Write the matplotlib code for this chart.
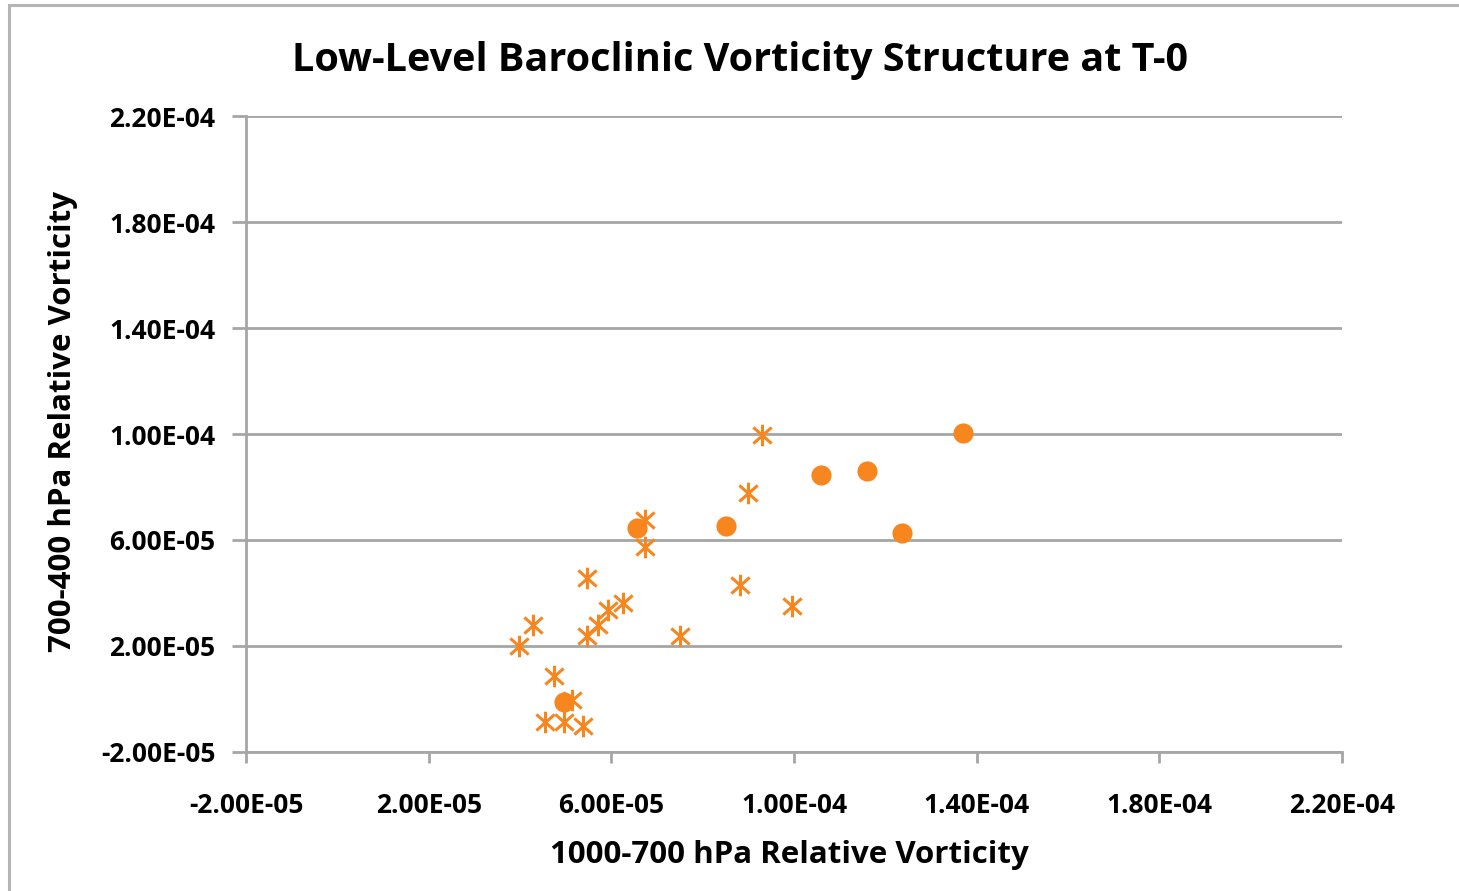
import matplotlib.pyplot as plt
import numpy as np
from matplotlib.path import Path
from matplotlib.patches import Rectangle
from matplotlib.ticker import FuncFormatter

# asterisk series (1000-700 hPa, 700-400 hPa)
star_x = [9.29e-5, 9.00e-5, 6.74e-5, 6.74e-5, 5.46e-5, 6.26e-5, 5.93e-5, 5.71e-5,
          5.46e-5, 4.29e-5, 3.98e-5, 7.50e-5, 8.82e-5, 9.95e-5, 4.75e-5, 5.13e-5,
          4.55e-5, 4.96e-5, 5.39e-5]
star_y = [9.96e-5, 7.76e-5, 6.75e-5, 5.75e-5, 4.58e-5, 3.63e-5, 3.36e-5, 2.79e-5,
          2.38e-5, 2.79e-5, 2.01e-5, 2.38e-5, 4.30e-5, 3.51e-5, 0.87e-5, -0.04e-5,
          -0.86e-5, -0.86e-5, -1.02e-5]

# circle series
dot_x = [6.56e-5, 8.50e-5, 10.59e-5, 11.59e-5, 13.71e-5, 12.36e-5, 4.96e-5]
dot_y = [6.44e-5, 6.53e-5, 8.45e-5, 8.60e-5, 10.05e-5, 6.28e-5, -0.10e-5]

ticks = [-2e-5, 2e-5, 6e-5, 1e-4, 1.4e-4, 1.8e-4, 2.2e-4]

orange = "#F7861F"
grey = "#A6A6A6"
font = ["Open Sans", "DejaVu Sans"]

plt.rcParams["font.family"] = font
plt.rcParams["font.weight"] = "bold"

fig = plt.figure(figsize=(14.59, 8.91), dpi=100)
ax = fig.add_axes([246 / 1459, 1 - 752 / 891, (1342 - 246) / 1459, (752 - 116) / 891])

# outer chart frame (cropped on the right and bottom)
fig.patches.append(Rectangle((9 / 1459, -0.05), 1.2, 1 - 5.5 / 891 + 0.05, transform=fig.transFigure,
                             fill=False, edgecolor="#B4B4B4", linewidth=2.2))

asterisk = Path([(0, -1), (0, 1), (-0.85, -0.75), (0.85, 0.75), (-0.85, 0.75), (0.85, -0.75)],
                [Path.MOVETO, Path.LINETO, Path.MOVETO, Path.LINETO, Path.MOVETO, Path.LINETO])

ax.plot(star_x, star_y, linestyle="none", marker=asterisk, markersize=15.5,
        markeredgewidth=2.2, color=orange, zorder=3)
ax.plot(dot_x, dot_y, linestyle="none", marker="o", markersize=14.5,
        color=orange, markeredgewidth=0, zorder=4)

ax.set_xlim(-2e-5, 2.2e-4)
ax.set_ylim(-2e-5, 2.2e-4)
ax.set_xticks(ticks)
ax.set_yticks(ticks)
fmt = FuncFormatter(lambda v, p: f"{v:.2E}")
ax.xaxis.set_major_formatter(fmt)
ax.yaxis.set_major_formatter(fmt)

ax.grid(axis="y", color=grey, linewidth=2)
ax.set_axisbelow(True)
for s in ["top", "right"]:
    ax.spines[s].set_visible(False)
for s in ["left", "bottom"]:
    ax.spines[s].set_color(grey)
    ax.spines[s].set_linewidth(2)

ax.tick_params(axis="x", direction="out", length=8, width=2, color=grey, pad=21, labelsize=19)
ax.tick_params(axis="y", direction="out", length=10, width=2, color=grey, pad=12, labelsize=19)
for lbl in ax.get_xticklabels() + ax.get_yticklabels():
    lbl.set_fontweight("bold")

ax.set_xlabel("1000-700 hPa Relative Vorticity", fontsize=22.5, fontweight="bold")
ax.set_ylabel("700-400 hPa Relative Vorticity", fontsize=22.5, fontweight="bold")
ax.xaxis.set_label_coords((789 - 246) / 1096, (752 - 840) / 636)
ax.yaxis.set_label_coords((78 - 246) / 1096, (752 - 421) / 636)
fig.text(740 / 1459, 1 - 60 / 891, "Low-Level Baroclinic Vorticity Structure at T-0",
         ha="center", va="center", fontsize=28.5, fontweight="bold")

fig.savefig("out.png", dpi=100, facecolor="white")
